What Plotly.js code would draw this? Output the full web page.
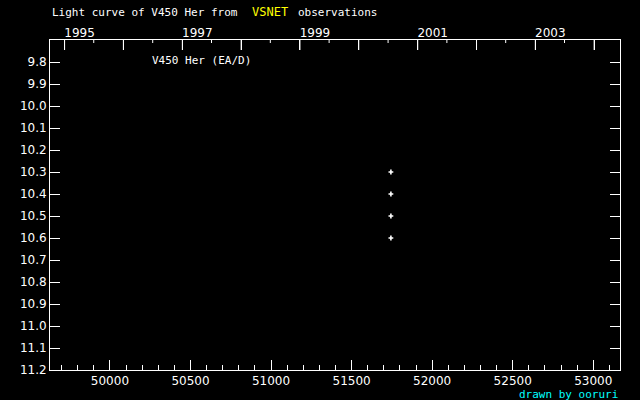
<!DOCTYPE html>
<html>
<head>
<meta charset="utf-8">
<script src="https://cdn.plot.ly/plotly-3.0.1.min.js"></script>
<style>html,body{margin:0;padding:0;background:#000;}#chart{width:640px;height:400px;}</style>
</head>
<body>
<div id="chart"></div>
<script>
// Observations (JD - 2400000, visual magnitude)
const obsJD = [51744, 51744, 51744, 51744];
const obsMag = [10.3, 10.4, 10.5, 10.6];

// Axis ticks
const magTicks = [9.8, 9.9, 10.0, 10.1, 10.2, 10.3, 10.4, 10.5, 10.6, 10.7, 10.8, 10.9, 11.0, 11.1, 11.2];
const yearJD = [49718.5, 50083.5, 50449.5, 50814.5, 51179.5, 51544.5, 51910.5, 52275.5, 52640.5, 53005.5];
const yearLabels = ['1995', '', '1997', '', '1999', '', '2001', '', '2003', ''];
const halfYearJD = [49899.5, 50265.5, 50630.5, 50995.5, 51360.5, 51726.5, 52091.5, 52456.5, 52821.5];

const jdRange = [49628, 53166];
const magRange = [11.2, 9.7];

const F = {family: 'DejaVu Sans', size: 12, color: '#ffffff'};
const FM = {family: 'DejaVu Sans Mono', size: 11, color: '#ffffff'};

// top-axis tick marks (hang down from the frame), built from the year arrays
const plotH = 330;
const magPerPx = (magRange[0] - magRange[1]) / plotH;
function tickPath(vals, lenPx) {
  const xs = [], ys = [];
  vals.forEach(v => { xs.push(v, v, null); ys.push(magRange[1], magRange[1] + lenPx * magPerPx, null); });
  return {xs, ys};
}
const yearTicks = tickPath(yearJD, 10);
const halfTicks = tickPath(halfYearJD, 3);

const data = [{
  x: obsJD, y: obsMag, type: 'scatter', mode: 'markers',
  marker: {symbol: 'cross', size: 4, color: '#ffffff', line: {width: 0}},
  hoverinfo: 'none', showlegend: false
}, {
  x: yearTicks.xs, y: yearTicks.ys, type: 'scatter', mode: 'lines',
  line: {color: '#ffffff', width: 1}, connectgaps: false, cliponaxis: false,
  hoverinfo: 'none', showlegend: false
}, {
  x: halfTicks.xs, y: halfTicks.ys, type: 'scatter', mode: 'lines',
  line: {color: '#ffffff', width: 1}, connectgaps: false, cliponaxis: false,
  hoverinfo: 'none', showlegend: false
}, {
  x: [jdRange[0]], y: [magRange[0]], xaxis: 'x2', yaxis: 'y', type: 'scatter', mode: 'markers',
  marker: {opacity: 0}, hoverinfo: 'none', showlegend: false
}];

const layout = {
  width: 640, height: 400,
  paper_bgcolor: '#000000', plot_bgcolor: '#000000',
  margin: {l: 50, r: 20, t: 40, b: 30, pad: 0},
  showlegend: false,
  font: F,
  xaxis: {
    range: jdRange, showgrid: false, zeroline: false,
    showline: true, linecolor: '#ffffff', linewidth: 1, mirror: true,
    ticks: 'inside', ticklen: 10, tickcolor: '#ffffff', tickwidth: 1,
    tickmode: 'linear', tick0: 50000, dtick: 500, tickformat: 'd',
    tickfont: F,
    minor: {dtick: 100, tick0: 50000, ticks: 'inside', ticklen: 5, tickcolor: '#ffffff', tickwidth: 1, showgrid: false}
  },
  xaxis2: {
    overlaying: 'x', side: 'top', anchor: 'y',
    range: jdRange, showgrid: false, zeroline: false, showline: false,
    ticks: 'inside', ticklen: 10, tickcolor: '#ffffff', tickwidth: 1,
    tickmode: 'array', tickvals: yearJD, ticktext: yearLabels,
    ticklabelshift: 15, tickfont: F
  },
  yaxis: {
    range: magRange, showgrid: false, zeroline: false,
    showline: true, linecolor: '#ffffff', linewidth: 1, mirror: 'ticks',
    ticks: 'inside', ticklen: 10, tickcolor: '#ffffff', tickwidth: 1,
    tickmode: 'array', tickvals: magTicks, tickformat: '.1f', ticksuffix: '\u00a0',
    tickfont: F
  },
  annotations: [
    {xref: 'paper', yref: 'paper', x: 0, y: 1, xanchor: 'left', yanchor: 'middle', yshift: 28,
     text: 'Light curve of V450 Her from', showarrow: false, font: FM},
    {xref: 'paper', yref: 'paper', x: (250 - 50) / 570, y: 1, xanchor: 'left', yanchor: 'middle', yshift: 28,
     text: 'VSNET', showarrow: false, font: {family: 'DejaVu Sans Mono', size: 12, color: '#ffff00'}},
    {xref: 'paper', yref: 'paper', x: (296 - 50) / 570, y: 1, xanchor: 'left', yanchor: 'middle', yshift: 28,
     text: 'observations', showarrow: false, font: FM},
    {xref: 'paper', yref: 'paper', x: (150 - 50) / 570, y: 1, xanchor: 'left', yanchor: 'middle', yshift: -20,
     text: 'V450 Her (EA/D)', showarrow: false, font: FM},
    {xref: 'paper', yref: 'paper', x: 1, y: 0, xanchor: 'right', yanchor: 'middle', yshift: -24,
     text: 'drawn by ooruri', showarrow: false, font: {family: 'DejaVu Sans Mono', size: 11, color: '#00ffff'}}
  ]
};

Plotly.newPlot('chart', data, layout, {staticPlot: true});
</script>
</body>
</html>
